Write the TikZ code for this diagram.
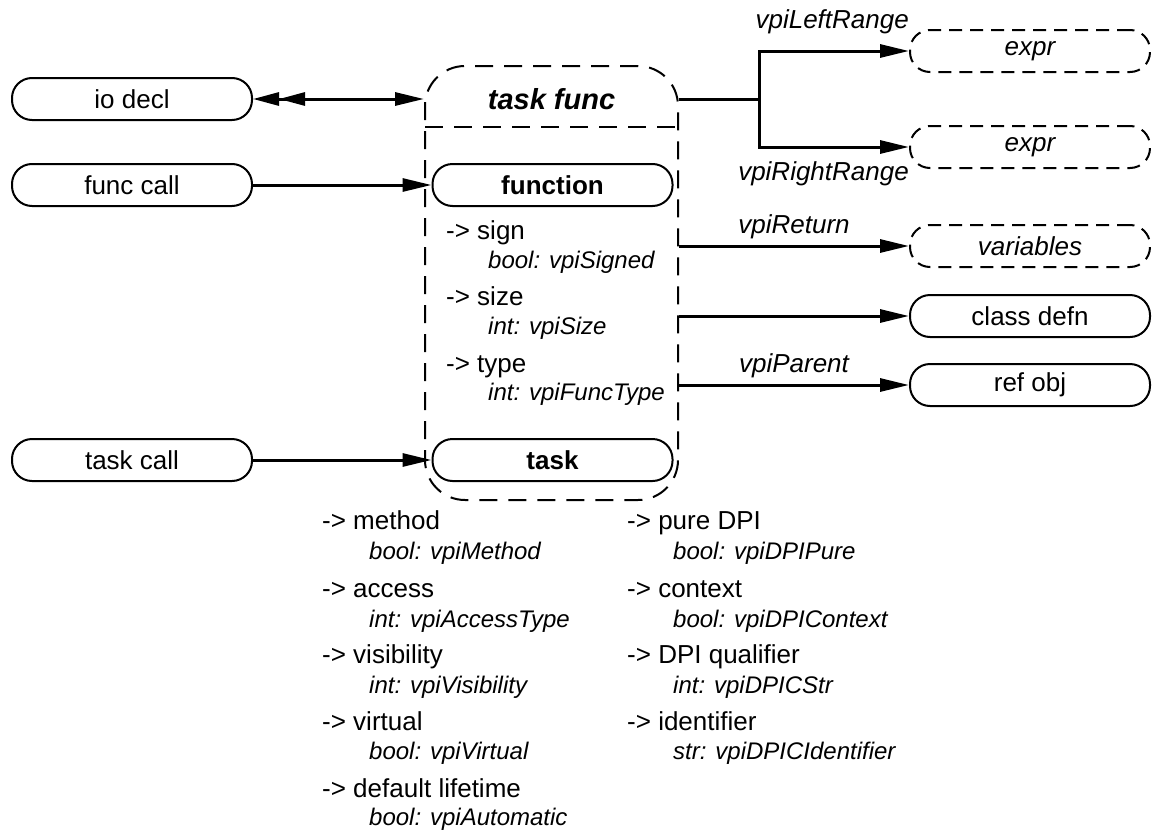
\documentclass[tikz,border=0pt]{standalone}
\usepackage{fontspec}
\setmainfont{Liberation Sans}
\usetikzlibrary{arrows.meta}
\newcommand\nodefnt{\fontsize{26}{30}\selectfont}
\newcommand\valfnt{\fontsize{24}{28}\selectfont\itshape}
\newcommand\headfnt{\fontsize{29}{32}\selectfont\bfseries\itshape}

\begin{document}
\begin{tikzpicture}[x=1pt, y=-1pt, every node/.style={font=\nodefnt},
    obj/.style={draw, line width=2pt, rounded corners=20pt, minimum width=240pt,
      minimum height=42pt, inner sep=0pt},
    grpobj/.style={obj, dash pattern=on 13pt off 8pt, font=\nodefnt\itshape},
    conn/.style={line width=3pt, -{Triangle[length=29pt,width=13pt]}},
    attr/.style={anchor=base west, inner sep=0pt},
    attrval/.style={attr, font=\valfnt},
    lbl/.style={inner sep=0pt, font=\nodefnt\itshape}]
  \fill[white] (0,0) rectangle (1154,830);
  \useasboundingbox (0,0) rectangle (1154,830);

  % task func group
  \node[draw, line width=2pt, dash pattern=on 18pt off 11pt, rounded corners=40pt,
    minimum width=253pt, minimum height=434pt, inner sep=0pt] (taskfunc) at (551.5,283) {};
  \node[font=\headfnt] (tfname) at (551.5,99) {task func};
  \draw[line width=2pt, dash pattern=on 18pt off 11pt] (425,127) -- (678,127);
  \node[obj, font=\nodefnt\bfseries] (func) at (552.5,185) {function};
  \node[obj, font=\nodefnt\bfseries] (task) at (552.5,460) {task};

  \node[attr] (sign) at (446,239) {-> sign};
  \node[attrval] (signv) at (488,268) {bool: vpiSigned};
  \node[attr] (size) at (446,305) {-> size};
  \node[attrval] (sizev) at (488,334) {int: vpiSize};
  \node[attr] (type) at (446,372) {-> type};
  \node[attrval] (typev) at (488,400) {int: vpiFuncType};

  % left side
  \node[obj] (io) at (132,99) {io decl};
  \node[obj] (fcall) at (132,185) {func call};
  \node[obj] (tcall) at (132,460) {task call};

  % right side
  \node[grpobj] (lexpr) at (1030,51) {expr};
  \node[grpobj] (rexpr) at (1030,147) {expr};
  \node[grpobj] (vars) at (1030,246) {variables};
  \node[obj] (cdefn) at (1030,316) {class defn};
  \node[obj] (robj) at (1030,385) {ref obj};

  \draw[line width=3pt, {Triangle[length=26pt,width=13pt]Triangle[length=26pt,width=13pt]}-{Triangle[length=29pt,width=13pt]}]
    (io.east) -- (io.east -| taskfunc.west);
  \draw[conn] (fcall.east) -- (func.west);
  \draw[conn] (tcall.east) -- (task.west);

  \coordinate (fork) at (759,99);
  \draw[line width=3pt] (taskfunc.east |- tfname) -- (fork);
  \draw[conn] (fork) |- (lexpr.west);
  \draw[conn] (fork) |- (rexpr.west);
  \node[lbl, anchor=base east] (lrange) at ([yshift=23pt]lexpr.west) {vpiLeftRange};
  \node[lbl, anchor=base east] (rrange) at ([yshift=-33pt]rexpr.west) {vpiRightRange};

  \draw[conn] (taskfunc.east |- vars) -- (vars.west)
    node[lbl, midway, anchor=base, yshift=13pt] (ret) {vpiReturn};
  \draw[conn] (taskfunc.east |- cdefn) -- (cdefn.west);
  \draw[conn] (taskfunc.east |- robj) -- (robj.west)
    node[lbl, midway, anchor=base, yshift=13pt] (par) {vpiParent};

  % task attributes
  \node[attr] (meth) at (322,529) {-> method};
  \node[attrval] (methv) at (369,559) {bool: vpiMethod};
  \node[attr] (acc) at (322,597) {-> access};
  \node[attrval] (accv) at (369,627) {int: vpiAccessType};
  \node[attr] (vis) at (322,663) {-> visibility};
  \node[attrval] (visv) at (369,693) {int: vpiVisibility};
  \node[attr] (virt) at (322,730) {-> virtual};
  \node[attrval] (virtv) at (369,759) {bool: vpiVirtual};
  \node[attr] (life) at (322,797) {-> default lifetime};
  \node[attrval] (lifev) at (369,825) {bool: vpiAutomatic};

  \node[attr] (pure) at (627,529) {-> pure DPI};
  \node[attrval] (purev) at (673,559) {bool: vpiDPIPure};
  \node[attr] (ctx) at (627,597) {-> context};
  \node[attrval] (ctxv) at (673,627) {bool: vpiDPIContext};
  \node[attr] (qual) at (627,663) {-> DPI qualifier};
  \node[attrval] (qualv) at (673,693) {int: vpiDPICStr};
  \node[attr] (ident) at (627,730) {-> identifier};
  \node[attrval] (identv) at (673,759) {str: vpiDPICIdentifier};
\end{tikzpicture}
\end{document}
